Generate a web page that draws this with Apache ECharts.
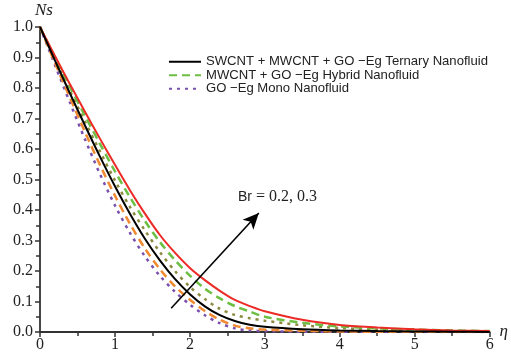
<!DOCTYPE html>
<html>
<head>
<meta charset="utf-8">
<script src="https://cdn.jsdelivr.net/npm/echarts@6/dist/echarts.min.js"></script>
<style>
html,body{margin:0;padding:0;background:#fff;}
#chart{width:511px;height:356px;}
</style>
</head>
<body>
<div id="chart"></div>
<script>
// x values (eta)
var eta = [0,0.2,0.4,0.6,0.8,1.0,1.2,1.4,1.6,1.8,2.0,2.2,2.4,2.6,2.8,3.0,3.5,4.0,4.5,5.0,5.5,6.0];
// Br = 0.2
var ternaryBr02 = [1,0.89,0.782,0.677,0.575,0.478,0.388,0.306,0.235,0.174,0.124,0.084,0.055,0.036,0.024,0.017,0.009,0.005,0.003,0.002,0.001,0];
var hybridBr02  = [1,0.882,0.768,0.656,0.548,0.447,0.355,0.274,0.206,0.15,0.106,0.069,0.04,0.021,0.012,0.008,0.004,0.002,0.001,0.001,0,0];
var monoBr02    = [1,0.875,0.752,0.632,0.518,0.415,0.325,0.248,0.184,0.132,0.09,0.055,0.029,0.012,0.005,0.003,0.001,0.001,0,0,0,0];
// Br = 0.3
var ternaryBr03 = [1,0.905,0.812,0.722,0.634,0.548,0.465,0.388,0.318,0.26,0.21,0.17,0.135,0.105,0.085,0.068,0.04,0.023,0.015,0.009,0.005,0.003];
var hybridBr03  = [1,0.9,0.803,0.709,0.617,0.527,0.442,0.364,0.295,0.236,0.185,0.142,0.11,0.085,0.067,0.05,0.03,0.018,0.012,0.008,0.005,0.003];
var monoBr03    = [1,0.893,0.79,0.69,0.592,0.497,0.41,0.333,0.262,0.2,0.148,0.108,0.076,0.056,0.045,0.037,0.022,0.013,0.008,0.005,0.003,0.001];
// legend names
var nameTernary = 'SWCNT + MWCNT + GO \u2212Eg Ternary Nanofluid';
var nameHybrid = 'MWCNT + GO \u2212Eg Hybrid Nanofluid';
var nameMono = 'GO \u2212Eg Mono Nanofluid';
// arrow (Br increasing)
var arrowFrom = [1.75, 0.078];
var arrowTo = [2.92, 0.39];

function pairs(ys){ return eta.map(function(x,i){ return [x, ys[i]]; }); }

var serif = '"Liberation Serif","Times New Roman",serif';
var sans = '"Liberation Sans",Arial,sans-serif';

function mk(name, ys, color, type, width, z){
  return {
    name: name, type: 'line', data: pairs(ys), smooth: 0.3,
    symbol: 'none', showSymbol: false, z: z || 2,
    lineStyle: {color: color, width: width, type: type},
    itemStyle: {color: color},
    animation: false
  };
}

var chart = echarts.init(document.getElementById('chart'), null, {renderer: 'canvas'});
var series = [
  mk('mono03', monoBr03, '#8c8a3e', [3,5], 2.5, 2),
  mk(nameMono, monoBr02, '#7a4fae', [3,5], 2.5, 2),
  mk('hybrid02', hybridBr02, '#f08a32', [8,5], 2.5, 3),
  mk(nameHybrid, hybridBr03, '#6cbf43', [8,5], 2.5, 3),
  mk('ternary03', ternaryBr03, '#ec2a26', 'solid', 2, 4),
  mk(nameTernary, ternaryBr02, '#000000', 'solid', 2, 5)
];
series.push({
  type: 'line', data: [], silent: true, animation: false,
  markLine: {
    silent: true, animation: false, symbol: ['none','arrow'], symbolSize: [11,16],
    label: {show: false},
    lineStyle: {color: '#000', width: 1.6, type: 'solid'},
    data: [[{coord: arrowFrom}, {coord: arrowTo}]]
  }
});

chart.setOption({
  backgroundColor: '#fff',
  animation: false,
  grid: {left: 40, right: 13, top: 27, bottom: 24, containLabel: false},
  legend: {
    orient: 'vertical', left: 168, top: 55, padding: 0, itemGap: 0,
    itemWidth: 32, itemHeight: 12,
    itemStyle: {opacity: 0},
    data: [nameTernary, nameHybrid, nameMono],
    textStyle: {fontFamily: sans, fontSize: 13.1, color: '#222', lineHeight: 13.5}
  },
  xAxis: {
    type: 'value', min: 0, max: 6, interval: 1,
    name: '\u03b7', nameLocation: 'end', nameGap: 8,
    nameTextStyle: {fontFamily: serif, fontSize: 17, fontStyle: 'italic', color: '#222', verticalAlign: 'middle'},
    axisLine: {show: true, lineStyle: {color: '#333', width: 1.8}},
    axisTick: {show: true, length: 5, inside: false, lineStyle: {color: '#333', width: 1.5}},
    minorTick: {show: true, splitNumber: 2, length: 4, lineStyle: {color: '#333', width: 1.5}},
    splitLine: {show: false},
    axisLabel: {fontFamily: serif, fontSize: 16, color: '#222', margin: 5}
  },
  yAxis: {
    type: 'value', min: 0, max: 1, interval: 0.1,
    name: 'Ns', nameLocation: 'end', nameGap: 4,
    nameTextStyle: {fontFamily: serif, fontSize: 17, fontStyle: 'italic', color: '#222', align: 'left', padding: [0,0,0,-5]},
    axisLine: {show: true, lineStyle: {color: '#333', width: 1.8}},
    axisTick: {show: true, length: 5, inside: false, lineStyle: {color: '#333', width: 1.5}},
    minorTick: {show: true, splitNumber: 2, length: 4, lineStyle: {color: '#333', width: 1.5}},
    splitLine: {show: false},
    axisLabel: {fontFamily: serif, fontSize: 16, color: '#222', margin: 7,
      formatter: function(v){ return v.toFixed(1); }}
  },
  graphic: [{
    type: 'text', left: 238, top: 189, silent: true,
    style: {
      text: '{a|Br}{b| = 0.2, 0.3}',
      rich: {
        a: {fontFamily: sans, fontSize: 14, fill: '#222'},
        b: {fontFamily: serif, fontSize: 16, fill: '#222'}
      }
    }
  }],
  series: series
});
</script>
</body>
</html>
